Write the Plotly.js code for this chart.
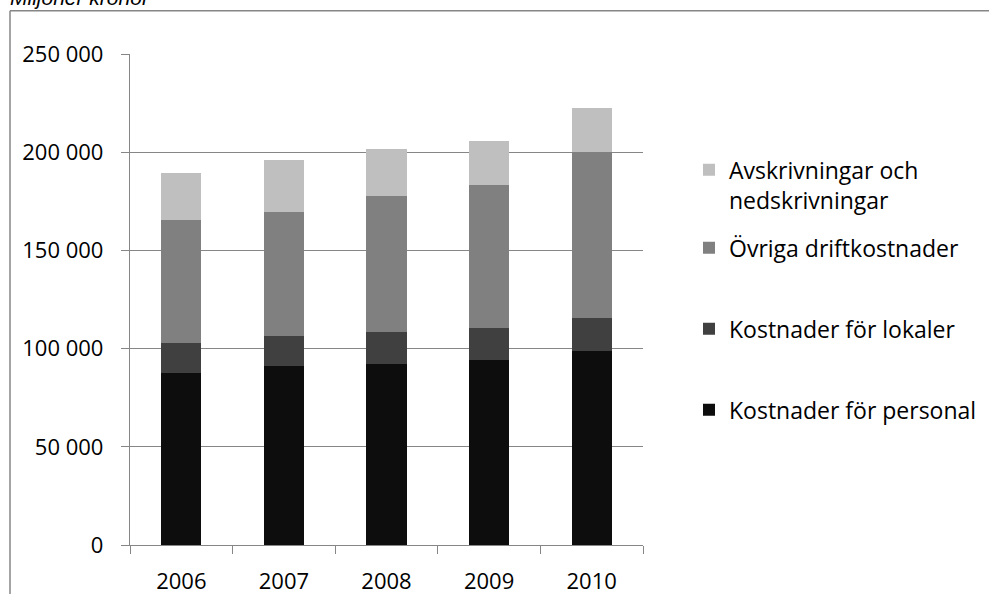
<!DOCTYPE html>
<html>
<head>
<meta charset="utf-8">
<script src="https://cdn.plot.ly/plotly-3.0.1.min.js"></script>
<style>
  html, body { margin: 0; padding: 0; background: #fff; }
  #chart { width: 989px; height: 594px; }
</style>
</head>
<body>
<div id="chart"></div>
<script>
// ---- Data (miljoner kronor) ----
const years = ['2006', '2007', '2008', '2009', '2010'];
const personal = [87600, 91300, 92300, 94000, 98600];
const lokaler = [15100, 15300, 16200, 16400, 16900];
const ovriga = [62800, 63100, 69200, 72800, 84800];
const avskrivningar = [23800, 26200, 23800, 22600, 22100];
const seriesNames = ['Kostnader för personal', 'Kostnader för lokaler', 'Övriga driftkostnader', 'Avskrivningar och<br>nedskrivningar'];
const yTickVals = [0, 50000, 100000, 150000, 200000, 250000];
const unitLabel = 'Miljoner kronor';

const FONT = 'Open Sans, Noto Sans, sans-serif';
const FS = 22;
const LFS = 23;
const colors = ['#0d0d0d', '#404040', '#808080', '#bfbfbf'];
const lineCol = '#868686';

// plot-area geometry (px) used to place decorations in paper coords
const L = 130, R = 643, T = 54.3, B = 545, W = 989, H = 594;
const px = v => (v - L) / (R - L);
const py = v => (B - v) / (B - T);

const vals = [personal, lokaler, ovriga, avskrivningar];
const legendIds = ['legend4', 'legend3', 'legend2', 'legend'];
const traces = vals.map((v, i) => ({
  type: 'bar',
  x: years,
  y: v,
  name: seriesNames[i],
  legend: legendIds[i],
  showlegend: true,
  marker: { color: colors[i], line: { width: 0 } },
  hoverinfo: 'x+y+name'
}));

const legendBase = {
  visible: true,
  xanchor: 'left', yanchor: 'middle',
  x: px(689),
  bgcolor: 'rgba(0,0,0,0)',
  font: { family: FONT, size: LFS, color: '#000' },
  itemclick: false, itemdoubleclick: false
};

const layout = {
  width: W, height: H,
  showlegend: true,
  margin: { l: L, r: W - R, t: T, b: H - B, pad: 0, autoexpand: false },
  paper_bgcolor: '#fff',
  plot_bgcolor: '#fff',
  barmode: 'stack',
  bargap: 0.61,
  separators: ', ',
  font: { family: FONT, size: FS, color: '#000' },
  xaxis: {
    type: 'category',
    tickson: 'boundaries',
    ticks: 'outside', ticklen: 8, tickcolor: lineCol, tickwidth: 1.3,
    showline: true, linecolor: lineCol, linewidth: 1.3,
    showgrid: false,
    tickfont: { family: FONT, size: FS, color: '#000' },
    ticklabelstandoff: 16,
    fixedrange: true
  },
  yaxis: {
    range: [0, 250000],
    tickvals: yTickVals,
    tickformat: ',d',
    ticks: 'outside', ticklen: 8, tickcolor: lineCol, tickwidth: 1.3,
    showline: true, linecolor: lineCol, linewidth: 1.3,
    showgrid: true, gridcolor: lineCol, gridwidth: 1.3,
    zeroline: false,
    tickfont: { family: FONT, size: FS, color: '#000' },
    ticklabelstandoff: 13,
    fixedrange: true
  },
  legend: Object.assign({}, legendBase, { y: py(185), valign: 'top' }),
  legend2: Object.assign({}, legendBase, { y: py(248) }),
  legend3: Object.assign({}, legendBase, { y: py(329) }),
  legend4: Object.assign({}, legendBase, { y: py(410) }),
  shapes: [
    { type: 'line', xref: 'paper', yref: 'paper', x0: px(10), x1: px(10), y0: py(11), y1: py(H + 5),
      line: { color: lineCol, width: 1.5 } },
    { type: 'line', xref: 'paper', yref: 'paper', x0: px(10), x1: px(W + 5), y0: py(11), y1: py(11),
      line: { color: lineCol, width: 1.5 } }
  ],
  annotations: [
    { text: '<i>' + unitLabel + '</i>', xref: 'paper', yref: 'paper', x: px(8), y: py(11),
      xanchor: 'left', yanchor: 'bottom', showarrow: false,
      font: { family: 'Liberation Sans, Arial, sans-serif', size: 21, color: '#000' } }
  ]
};

Plotly.newPlot('chart', traces, layout, { displayModeBar: false });
</script>
</body>
</html>
